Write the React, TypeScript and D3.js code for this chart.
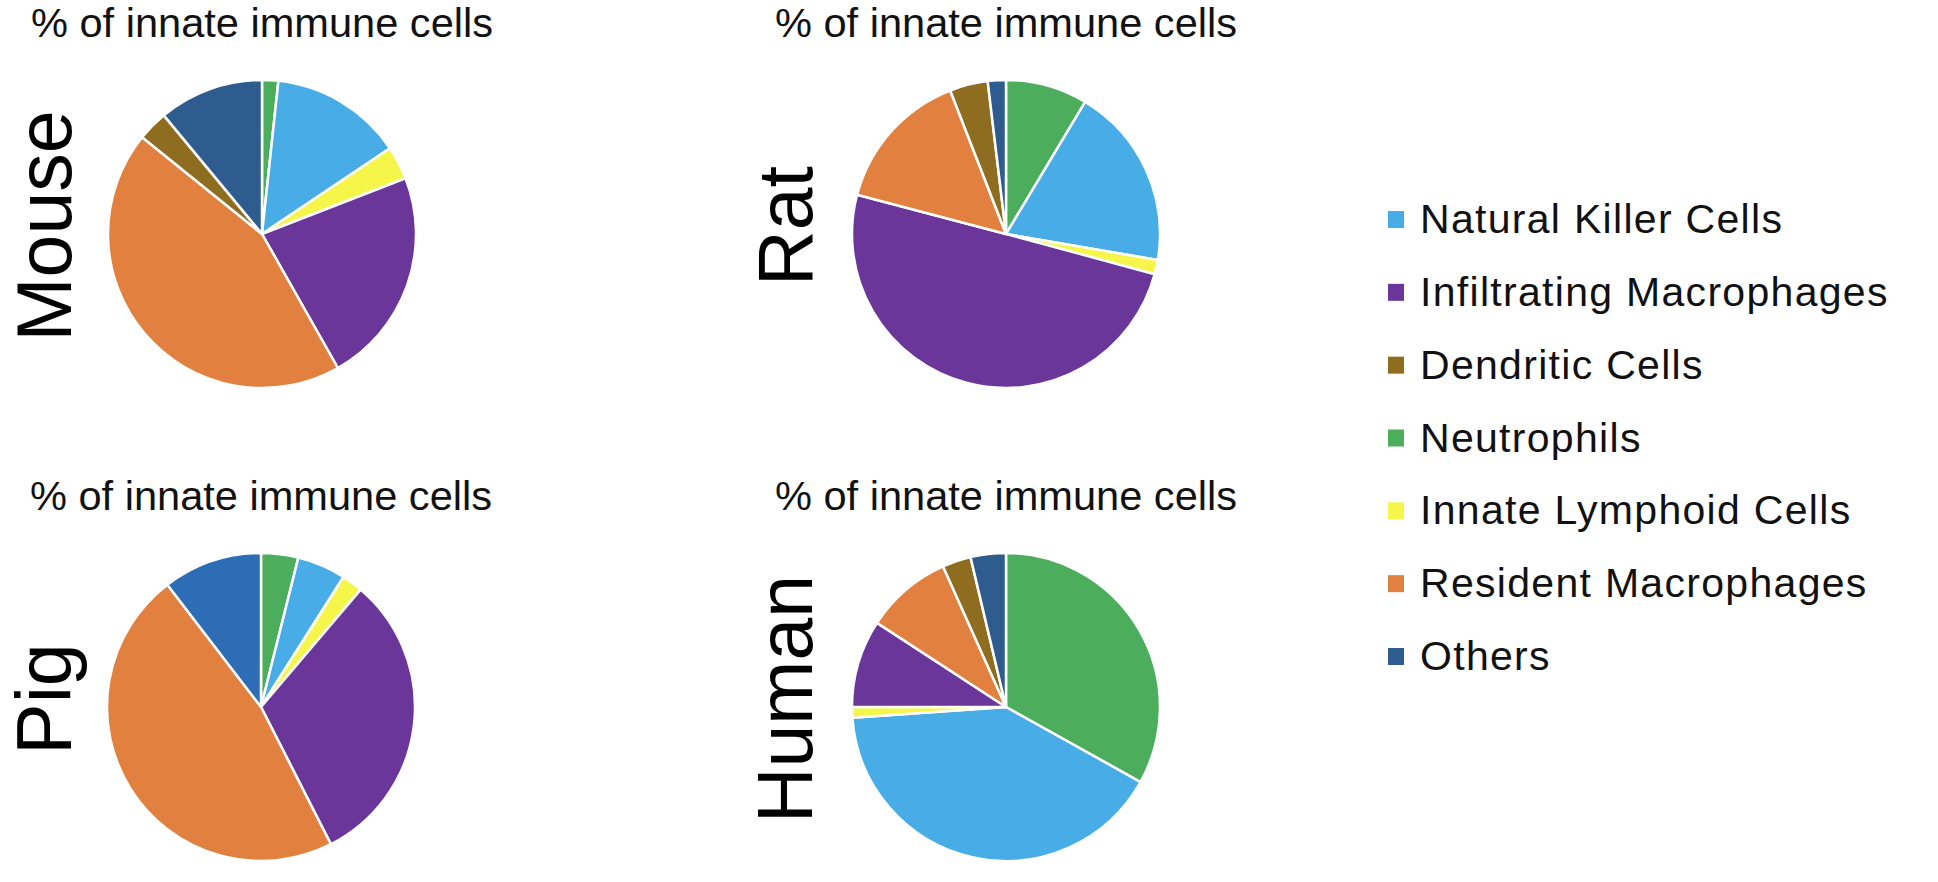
import React from "react";
import * as d3 from "d3";

const width = 1938,
  height = 882;

// legend order (top to bottom)
const legendLabels = [
  "Natural Killer Cells",
  "Infiltrating Macrophages",
  "Dendritic Cells",
  "Neutrophils",
  "Innate Lymphoid Cells",
  "Resident Macrophages",
  "Others",
];

// slice order, clockwise from 12 o'clock
const sliceLabels = [
  "Neutrophils",
  "Natural Killer Cells",
  "Innate Lymphoid Cells",
  "Infiltrating Macrophages",
  "Resident Macrophages",
  "Dendritic Cells",
  "Others",
];

// % of innate immune cells, same order as sliceLabels
const mouseValues = [1.7, 13.9, 3.5, 22.7, 44.0, 3.2, 11.0];
const ratValues = [8.6, 19.1, 1.5, 49.9, 15.0, 4.0, 1.9];
const pigValues = [3.9, 5.1, 2.2, 31.3, 47.1, 0, 10.4];
const humanValues = [33.1, 40.8, 1.1, 9.2, 9.1, 3.0, 3.7];

const species = ["Mouse", "Rat", "Pig", "Human"];
const titleText = "% of innate immune cells";

const color = d3
  .scaleOrdinal<string, string>()
  .domain(legendLabels)
  .range([
    "#48ACE7",
    "#6A3699",
    "#8E6D20",
    "#4CAD5C",
    "#F6F64A",
    "#E1803F",
    "#2F5C8F",
  ]);

// pig's "Others" is drawn in a brighter blue in the source figure
const pigOthers = "#2C6DB6";

const font = "Arial, 'Liberation Sans', Helvetica, sans-serif";

const panels = [
  { name: species[0], values: mouseValues, cx: 262, cy: 234, labelX: 71 },
  { name: species[1], values: ratValues, cx: 1006, cy: 234, labelX: 812 },
  { name: species[2], values: pigValues, cx: 261, cy: 707, labelX: 71 },
  { name: species[3], values: humanValues, cx: 1006, cy: 707, labelX: 812 },
];

const radius = 154;

const pie = d3
  .pie<number>()
  .sort(null)
  .value((d) => d);

const arc = d3.arc<d3.PieArcDatum<number>>().innerRadius(0).outerRadius(radius);

function PiePanel({ name, values, cx, cy, labelX }) {
  const arcs = pie(values);
  const titleY = cy - 197;
  return (
    <g>
      <text
        x={cx}
        y={titleY}
        textAnchor="middle"
        fontSize={40}
        fontFamily={font}
        fill="#111"
        textLength={462}
        lengthAdjust="spacingAndGlyphs"
      >
        {titleText}
      </text>
      <text
        transform={`translate(${labelX},${cy - 8}) rotate(-90)`}
        textAnchor="middle"
        fontSize={77}
        fontFamily={font}
        fill="#000"
      >
        {name}
      </text>
      <g transform={`translate(${cx},${cy})`}>
        {arcs.map((a, i) =>
          a.value > 0 ? (
            <path
              key={i}
              d={arc(a) as string}
              fill={
                name === "Pig" && sliceLabels[i] === "Others"
                  ? pigOthers
                  : color(sliceLabels[i])
              }
              stroke="#fff"
              strokeWidth={2.5}
              strokeLinejoin="round"
            />
          ) : null,
        )}
      </g>
    </g>
  );
}

const legendY = d3
  .scalePoint<string>()
  .domain(legendLabels)
  .range([233, 670]);

export default function App() {
  return (
    <svg
      width={width}
      height={height}
      style={{ position: "absolute", left: 0, top: 0, background: "#fff" }}
    >
      {panels.map((p) => (
        <PiePanel key={p.name} {...p} />
      ))}
      <g>
        {legendLabels.map((l) => {
          const y = legendY(l) as number;
          return (
            <g key={l}>
              <rect x={1388} y={y - 22} width={16} height={17} fill={color(l)} />
              <text
                x={1420}
                y={y}
                fontSize={41}
                fontFamily={font}
                fill="#111"
                letterSpacing={1.3}
              >
                {l}
              </text>
            </g>
          );
        })}
      </g>
    </svg>
  );
}
